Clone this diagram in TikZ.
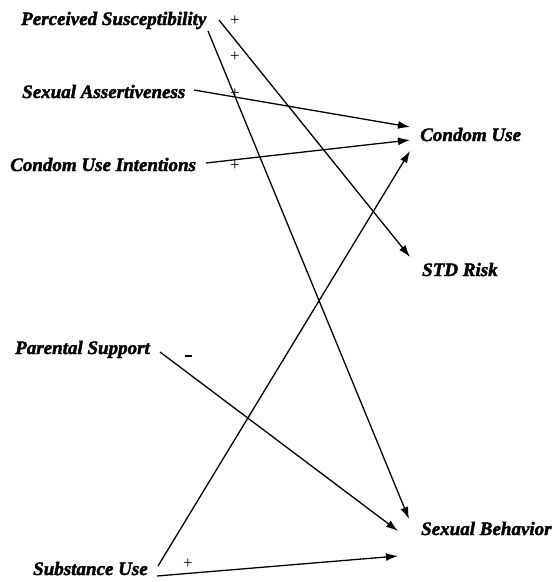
\documentclass[tikz,border=0pt]{standalone}
\usepackage{fontspec}
\setmainfont{Liberation Serif}
\newfontfamily\lblfont{Liberation Serif}[BoldItalicFeatures={FakeBold=2}]
\usetikzlibrary{arrows.meta}
\begin{document}
\begin{tikzpicture}[x=1pt,y=-1pt,
  lbl/.style={font=\lblfont\fontsize{19}{22}\selectfont\bfseries\itshape, inner sep=0pt, anchor=base west},
  sgn/.style={font=\fontsize{17}{19}\selectfont, inner sep=0pt},
  path/.style={line width=1.3pt, -{Latex[length=12pt,width=8pt]}}]
\useasboundingbox (0,0) rectangle (554,582);
% labels
\node[lbl] (ps) at (21,25) {Perceived Susceptibility};
\node[lbl] (sa) at (22,98) {Sexual Assertiveness};
\node[lbl] (ci) at (10,171) {Condom Use Intentions};
\node[lbl] (pa) at (15,354) {Parental Support};
\node[lbl] (su) at (33,575) {Substance Use};
\node[lbl] (cu) at (420,141) {Condom Use};
\node[lbl] (sd) at (422,276) {STD Risk};
\node[lbl] (sb) at (421,535) {Sexual Behavior};
% connector points
\coordinate (psA) at (208,31);
\coordinate (psB) at (219,20);
\coordinate (saA) at (194,90);
\coordinate (ciA) at (206,163);
\coordinate (paA) at (160,352);
\coordinate (suA) at (158,566);
\coordinate (suB) at (157,576);
\coordinate (cuA) at (410,127);
\coordinate (cuB) at (410,140);
\coordinate (cuC) at (410,151);
\coordinate (sdA) at (410,257);
\coordinate (sbA) at (409,519);
\coordinate (sbB) at (398,531);
\coordinate (sbC) at (398,556);
% connectors
\draw[path] (psA) -- (sbA);
\draw[path] (psB) -- (sdA);
\draw[path] (saA) -- (cuA);
\draw[path] (ciA) -- (cuB);
\draw[path] (suA) -- (cuC);
\draw[path] (paA) -- (sbB);
\draw[path] (suB) -- (sbC);
% signs
\node[sgn] (s1) at (235,21) {+};
\node[sgn] (s2) at (235,57) {+};
\node[sgn] (s3) at (235,94) {+};
\node[sgn] (s4) at (235,166) {+};
\node[sgn] (s5) at (188,356) {\rule{7pt}{1.6pt}};
\node[sgn] (s6) at (188,564) {+};
\end{tikzpicture}
\end{document}
